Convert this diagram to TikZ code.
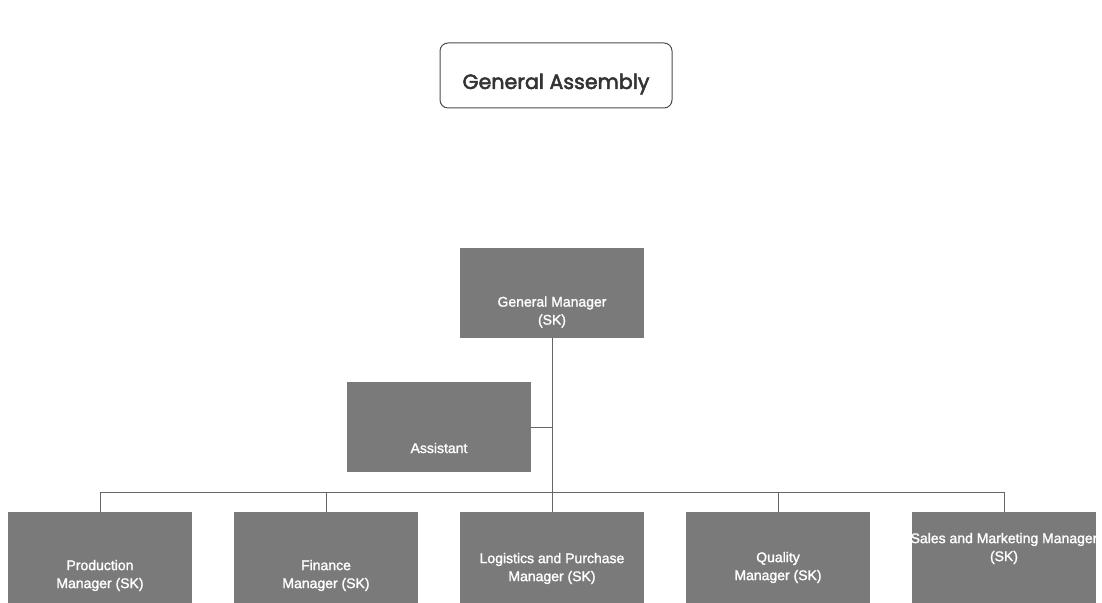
\documentclass[tikz,border=0pt]{standalone}
\usepackage{fontspec}
\setmainfont{Liberation Sans}
\newfontfamily\gafont[FakeBold=2.5]{Poppins}
\newfontfamily\boxfont[FakeBold=1.5]{Liberation Sans}
\usetikzlibrary{calc}

\begin{document}
\begin{tikzpicture}[x=0.5pt,y=-0.5pt,
  box/.style={fill=black!52, minimum width=92pt, minimum height=45pt, inner sep=0pt},
  boxtext/.style={text=white, font=\boxfont\fontsize{7}{9}\selectfont, align=center, inner sep=0pt},
  link/.style={black!60, line width=0.4pt}]

    \useasboundingbox (0,0) rectangle (1102,603);

%the assembly on top
    \node[draw=black!70, rounded corners=4pt, line width=0.5pt, minimum width=116pt, minimum height=32.5pt] (ga) at (556,75.5) {};
    \node[text=black!80, font=\gafont\fontsize{10.3}{12}\selectfont] (ga-t) at (556,84) {General Assembly};

%general manager and assistant
    \node[box] (gm) at (552,293) {};
    \node[boxtext] (gm-t) at (552,312) {General Manager\\(SK)};
    \node[box] (as) at (439,427) {};
    \node[boxtext] (as-t) at (439,448) {Assistant};

%the managers, name/x/text shift/text
    \foreach \n/\x/\d/\t in {pm/100/18/{Production\\Manager (SK)},
        fm/326/18/{Finance\\Manager (SK)},
        lm/552/11/{Logistics and Purchase\\Manager (SK)},
        qm/778/10/{Quality\\Manager (SK)},
        sm/1004/-9/{Sales and Marketing Manager\\(SK)}} {
    \node[box, minimum height=45.5pt] (\n) at (\x,557.5) {};
    \node[boxtext] (\n-t) at (\x,557.5+\d) {\t};    }

% the lines
    \draw[link] (gm.south) -- (lm.north);
    \draw[link] (as.east) -- (as.east -| gm.south);
    \draw[link] (pm.north) -- ++(0,-19) -| (sm.north);
    \foreach \n in {fm,qm} \draw[link] (\n.north) -- ++(0,-19);
\end{tikzpicture}
\end{document}
